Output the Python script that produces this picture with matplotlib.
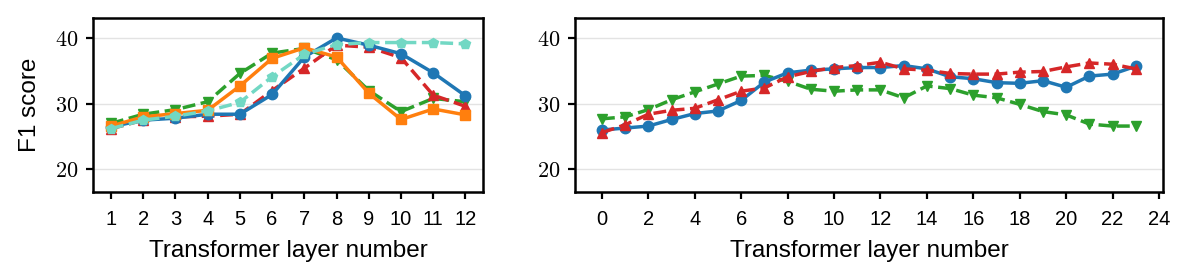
import numpy as np
import matplotlib
matplotlib.use('Agg')
import matplotlib.pyplot as plt

plt.rcParams['font.family'] = ['Liberation Sans', 'DejaVu Sans']
plt.rcParams['mathtext.fontset'] = 'cm'

# left panel: 12 layers
layers_a = np.arange(1, 13)
blue_a = [26.5, 27.5, 27.8, 28.4, 28.4, 31.4, 37.1, 40.0, 38.9, 37.6, 34.7, 31.2]
red_a = [26.2, 27.5, 28.0, 28.1, 28.4, 32.0, 35.4, 38.9, 38.6, 37.0, 31.3, 29.6]
green_a = [27.0, 28.4, 29.1, 30.3, 34.6, 37.7, 38.4, 36.7, 32.0, 28.8, 30.8, 30.3]
orange_a = [26.6, 28.0, 28.5, 29.0, 32.7, 36.9, 38.5, 37.1, 31.6, 27.6, 29.2, 28.3]
teal_a = [26.2, 27.5, 28.1, 28.9, 30.2, 34.1, 37.5, 39.0, 39.3, 39.3, 39.3, 39.1]

# right panel: 24 layers
layers_b = np.arange(0, 24)
blue_b = [26.0, 26.3, 26.6, 27.6, 28.5, 28.9, 30.5, 33.3, 34.7, 35.1, 35.3, 35.5,
          35.5, 35.8, 35.3, 34.1, 33.8, 33.2, 33.1, 33.5, 32.5, 34.2, 34.5, 35.7]
red_b = [25.6, 26.8, 28.4, 29.0, 29.3, 30.6, 31.9, 32.4, 34.1, 34.9, 35.5, 35.8,
         36.3, 35.3, 35.1, 34.6, 34.5, 34.5, 34.8, 34.9, 35.6, 36.2, 36.0, 35.3]
green_b = [27.7, 28.0, 29.1, 30.6, 31.8, 33.0, 34.2, 34.3, 33.4, 32.2, 31.9, 32.1,
           32.1, 30.9, 32.7, 32.3, 31.3, 30.9, 29.9, 28.8, 28.3, 26.9, 26.6, 26.6]

lw = 2.5
ms = 7.5

fig = plt.figure(figsize=(11.96, 2.76), dpi=100)
ax1 = fig.add_axes([0.078, 0.305, 0.326, 0.629])
ax2 = fig.add_axes([0.481, 0.305, 0.491, 0.629])

ax1.plot(layers_a, blue_a, '-', marker='o', color='#1f77b4', lw=lw, ms=ms, zorder=5)
ax1.plot(layers_a, red_a, '--', marker='^', color='#d62728', lw=lw, ms=ms, zorder=4)
ax1.plot(layers_a, green_a, '--', marker='v', color='#2ca02c', lw=lw, ms=ms, zorder=3)
ax1.plot(layers_a, orange_a, '-', marker='s', color='#ff7f0e', lw=lw, ms=ms, zorder=6)
ax1.plot(layers_a, teal_a, '--', marker='p', color='#72d8c4', lw=lw, ms=ms, zorder=7)

ax2.plot(layers_b, blue_b, '-', marker='o', color='#1f77b4', lw=lw, ms=ms, zorder=5)
ax2.plot(layers_b, red_b, '--', marker='^', color='#d62728', lw=lw, ms=ms, zorder=6)
ax2.plot(layers_b, green_b, '--', marker='v', color='#2ca02c', lw=lw, ms=ms, zorder=4)

ax1.set_xticks(layers_a)
ax2.set_xticks(np.arange(0, 25, 2))
ax1.set_xlim(0.45, 12.55)
ax2.set_xlim(-1.15, 24.15)

for ax in (ax1, ax2):
    ax.set_ylim(16.6, 43)
    ax.grid(axis='y', color='#e3e3e3', lw=1, zorder=0)
    ax.set_axisbelow(True)
    for s in ax.spines.values():
        s.set_linewidth(1.8)
    ax.tick_params(width=1.6, length=5, labelsize=14.5, pad=8)
    ax.set_yticks([20, 30, 40])
    ax.set_yticklabels(['$20$', '$30$', '$40$'], fontsize=16)
    ax.tick_params(axis='y', pad=6)
    ax.set_xlabel('Transformer layer number', fontsize=17.5, labelpad=8)

ax1.set_ylabel('F1 score', fontsize=17.5, labelpad=10)

fig.savefig('out.png', dpi=100)
